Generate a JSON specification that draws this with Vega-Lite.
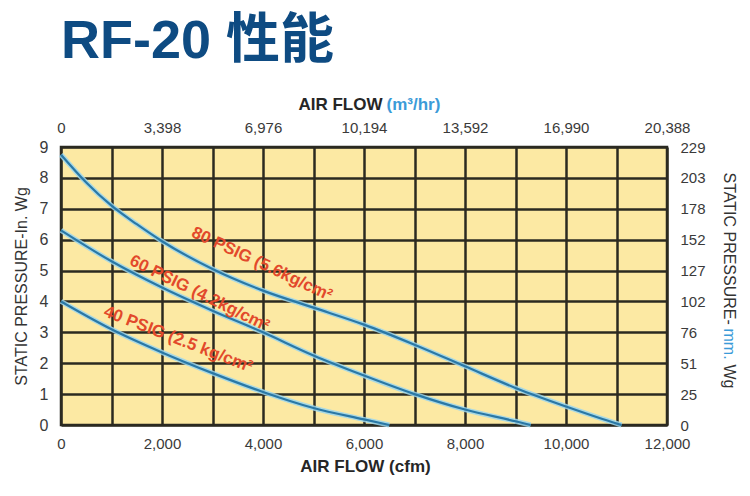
{
  "$schema": "https://vega.github.io/schema/vega-lite/v6.json",
  "width": 606,
  "height": 278,
  "autosize": "none",
  "padding": {"left": 61, "top": 147, "right": 83, "bottom": 71},
  "background": "white",
  "title": {
    "text": "RF-20 性能",
    "anchor": "start",
    "frame": "group",
    "font": "'Liberation Sans', 'Noto Sans CJK SC', sans-serif",
    "fontSize": 54,
    "fontWeight": "bold",
    "color": "#0e4b82",
    "baseline": "alphabetic",
    "offset": -17
  },
  "config": {
    "view": {"fill": "#fce9a3", "stroke": "#2b2a20", "strokeWidth": 2.5},
    "font": "'Liberation Sans', sans-serif"
  },
  "datasets": {
    "curves": [
      {"psig": 80, "cfm": 0, "wg": 8.75},
      {"psig": 80, "cfm": 500, "wg": 7.85},
      {"psig": 80, "cfm": 1000, "wg": 7.1},
      {"psig": 80, "cfm": 1500, "wg": 6.5},
      {"psig": 80, "cfm": 2000, "wg": 5.95},
      {"psig": 80, "cfm": 3000, "wg": 5.05},
      {"psig": 80, "cfm": 4000, "wg": 4.35},
      {"psig": 80, "cfm": 5000, "wg": 3.8},
      {"psig": 80, "cfm": 6000, "wg": 3.25},
      {"psig": 80, "cfm": 7000, "wg": 2.6},
      {"psig": 80, "cfm": 8000, "wg": 1.9},
      {"psig": 80, "cfm": 9000, "wg": 1.2},
      {"psig": 80, "cfm": 10000, "wg": 0.6},
      {"psig": 80, "cfm": 11000, "wg": 0.05},
      {"psig": 80, "cfm": 11100, "wg": 0},
      {"psig": 60, "cfm": 0, "wg": 6.3},
      {"psig": 60, "cfm": 1000, "wg": 5.3},
      {"psig": 60, "cfm": 2000, "wg": 4.45},
      {"psig": 60, "cfm": 3000, "wg": 3.7},
      {"psig": 60, "cfm": 4000, "wg": 3.0},
      {"psig": 60, "cfm": 5000, "wg": 2.25},
      {"psig": 60, "cfm": 6000, "wg": 1.6},
      {"psig": 60, "cfm": 7000, "wg": 1.0},
      {"psig": 60, "cfm": 8000, "wg": 0.5},
      {"psig": 60, "cfm": 9000, "wg": 0.12},
      {"psig": 60, "cfm": 9300, "wg": 0},
      {"psig": 40, "cfm": 0, "wg": 4.0},
      {"psig": 40, "cfm": 1000, "wg": 3.1},
      {"psig": 40, "cfm": 2000, "wg": 2.35},
      {"psig": 40, "cfm": 3000, "wg": 1.68},
      {"psig": 40, "cfm": 4000, "wg": 1.07},
      {"psig": 40, "cfm": 5000, "wg": 0.55},
      {"psig": 40, "cfm": 6000, "wg": 0.18},
      {"psig": 40, "cfm": 6500, "wg": 0}
    ],
    "labels": [
      {"psig": 80, "label": "80 PSIG (5.6kg/cm²", "cfm": 3980, "wg": 5.21},
      {"psig": 60, "label": "60 PSIG (4.2kg/cm²", "cfm": 2740, "wg": 4.26},
      {"psig": 40, "label": "40 PSIG (2.5 kg/cm²", "cfm": 2320, "wg": 2.77}
    ]
  },
  "resolve": {"scale": {"x": "independent", "y": "independent"}},
  "layer": [
    {
      "data": {"name": "curves"},
      "mark": {"type": "line", "interpolate": "monotone", "color": "#9ad6ee", "strokeWidth": 5, "opacity": 0.85},
      "encoding": {
        "x": {
          "field": "cfm", "type": "quantitative",
          "scale": {"domain": [0, 12000], "nice": false, "zero": false},
          "axis": {
            "orient": "bottom",
            "values": [0, 1000, 2000, 3000, 4000, 5000, 6000, 7000, 8000, 9000, 10000, 11000, 12000],
            "grid": true, "gridColor": "#2b2a20", "gridWidth": 2.5, "gridOpacity": 1,
            "ticks": false, "domain": false,
            "labelExpr": "datum.value % 2000 == 0 ? format(datum.value, ',') : ''",
            "labelFontSize": 15, "labelColor": "#3a3a3a", "labelPadding": 11,
            "labelFlush": false, "labelOverlap": false,
            "title": "AIR FLOW (cfm)", "titleFontSize": 17, "titleFontWeight": "bold", "titleColor": "#262626",
            "titleX": 304, "titleY": 41, "titleBaseline": "middle", "titleAlign": "center"
          }
        },
        "y": {
          "field": "wg", "type": "quantitative",
          "scale": {"domain": [0, 9], "nice": false, "zero": false},
          "axis": {
            "orient": "left",
            "values": [0, 1, 2, 3, 4, 5, 6, 7, 8, 9],
            "grid": true, "gridColor": "#2b2a20", "gridWidth": 2.5, "gridOpacity": 1,
            "ticks": false, "domain": false,
            "labelFontSize": 16, "labelColor": "#3a3a3a", "labelPadding": 13,
            "labelFlush": false, "labelOverlap": false,
            "title": "STATIC PRESSURE-In. Wg", "titleFontSize": 16, "titleFontWeight": "normal", "titleColor": "#333333",
            "titleX": -40, "titleY": 139, "titleBaseline": "middle", "titleAlign": "center", "titleAngle": 270
          }
        },
        "detail": {"field": "psig"}
      }
    },
    {
      "data": {"name": "curves"},
      "mark": {"type": "line", "interpolate": "monotone", "color": "#2a78a6", "strokeWidth": 2.2},
      "encoding": {
        "x": {"field": "cfm", "type": "quantitative", "scale": {"domain": [0, 12000], "nice": false, "zero": false}, "axis": null},
        "y": {"field": "wg", "type": "quantitative", "scale": {"domain": [0, 9], "nice": false, "zero": false}, "axis": null},
        "detail": {"field": "psig"}
      }
    },
    {
      "data": {"name": "labels"},
      "mark": {"type": "text", "font": "'Liberation Sans', sans-serif", "fontSize": 17, "fontWeight": "bold", "color": "#e2492b", "align": "center", "baseline": "middle"},
      "encoding": {
        "x": {
          "field": "cfm", "type": "quantitative",
          "scale": {"domain": [0, 12000], "nice": false, "zero": false},
          "axis": {
            "orient": "top",
            "values": [0, 2000, 4000, 6000, 8000, 10000, 12000],
            "labelExpr": "['0','3,398','6,976','10,194','13,592','16,990','20,388'][round(datum.value/2000)]",
            "grid": false, "ticks": false, "domain": false,
            "labelFlush": false, "labelOverlap": false,
            "labelFontSize": 15, "labelColor": "#3a3a3a", "labelPadding": 12,
            "title": "AIR FLOW", "titleFontSize": 17, "titleFontWeight": "bold", "titleColor": "#262626",
            "titleAlign": "right", "titleX": 321, "titleY": -43, "titleBaseline": "middle"
          }
        },
        "y": {
          "field": "wg", "type": "quantitative",
          "scale": {"domain": [0, 9], "nice": false, "zero": false},
          "axis": {
            "orient": "right",
            "values": [0, 1, 2, 3, 4, 5, 6, 7, 8, 9],
            "labelExpr": "['0','25','51','76','102','127','152','178','203','229'][round(datum.value)]",
            "grid": false, "ticks": false, "domain": false,
            "labelFlush": false, "labelOverlap": false,
            "labelFontSize": 15, "labelColor": "#3a3a3a", "labelPadding": 13,
            "title": "STATIC PRESSURE-", "titleFontSize": 16, "titleFontWeight": "normal", "titleColor": "#333333",
            "titleAngle": 90, "titleAlign": "left", "titleBaseline": "middle", "titleX": 61, "titleY": 25
          }
        },
        "text": {"field": "label"},
        "angle": {"field": "psig", "type": "quantitative", "scale": {"domain": [40, 60, 80], "range": [21, 26, 25]}, "legend": null}
      }
    },
    {
      "data": {"name": "labels"},
      "mark": {"type": "point", "opacity": 0},
      "encoding": {
        "x": {
          "field": "cfm", "type": "quantitative",
          "scale": {"domain": [0, 12000], "nice": false, "zero": false},
          "axis": {
            "orient": "top", "labels": false, "ticks": false, "domain": false, "grid": false,
            "title": "(m³/hr)", "titleColor": "#3b9bd8", "titleFontSize": 17, "titleFontWeight": "bold",
            "titleAlign": "left", "titleX": 325, "titleY": -43, "titleBaseline": "middle"
          }
        },
        "y": {
          "field": "wg", "type": "quantitative",
          "scale": {"domain": [0, 9], "nice": false, "zero": false},
          "axis": {
            "orient": "right", "labels": false, "ticks": false, "domain": false, "grid": false,
            "title": "mm.", "titleColor": "#3b9bd8", "titleFontSize": 16, "titleFontWeight": "normal",
            "titleAngle": 90, "titleAlign": "left", "titleBaseline": "middle", "titleX": 61, "titleY": 181
          }
        }
      }
    },
    {
      "data": {"name": "labels"},
      "mark": {"type": "point", "opacity": 0},
      "encoding": {
        "x": {"field": "cfm", "type": "quantitative", "scale": {"domain": [0, 12000], "nice": false, "zero": false}, "axis": null},
        "y": {
          "field": "wg", "type": "quantitative",
          "scale": {"domain": [0, 9], "nice": false, "zero": false},
          "axis": {
            "orient": "right", "labels": false, "ticks": false, "domain": false, "grid": false,
            "title": "Wg", "titleColor": "#333333", "titleFontSize": 16, "titleFontWeight": "normal",
            "titleAngle": 90, "titleAlign": "left", "titleBaseline": "middle", "titleX": 61, "titleY": 217
          }
        }
      }
    }
  ]
}
